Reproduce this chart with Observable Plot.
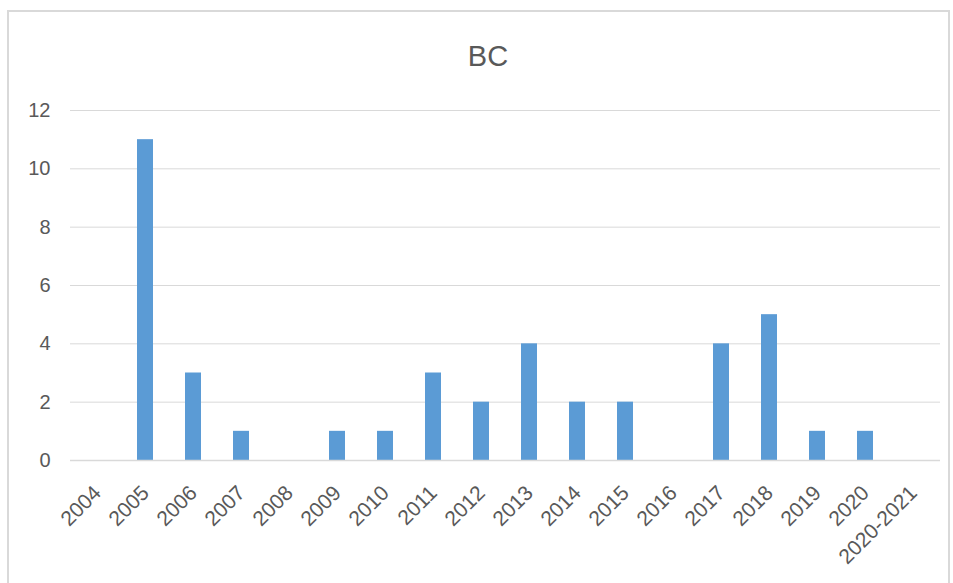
<!DOCTYPE html>
<html>
<head>
<meta charset="utf-8">
<script src="https://cdn.jsdelivr.net/npm/d3@7"></script>
<script src="https://cdn.jsdelivr.net/npm/@observablehq/plot@0.6"></script>
<style>
  html, body { margin: 0; padding: 0; background: #fff; }
  #wrap { position: relative; width: 953px; height: 583px; overflow: hidden; }
  #border { position: absolute; left: 7px; top: 10px; width: 939px; height: 580px; border: 2px solid #d9d9d9; box-sizing: content-box; }
  #title { position: absolute; left: 0; top: 38px; width: 976px; text-align: center; font-family: "Liberation Sans", Arial, sans-serif; font-size: 29px; color: #595959; line-height: 36px; }
  #chart { position: absolute; left: 0; top: 0; }
</style>
</head>
<body>
<div id="wrap">
  <div id="border"></div>
  <div id="title">BC</div>
  <div id="chart"></div>
</div>
<script>
const categories = ["2004","2005","2006","2007","2008","2009","2010","2011","2012","2013","2014","2015","2016","2017","2018","2019","2020","2020-2021"];
const values = [0, 11, 3, 1, 0, 1, 1, 3, 2, 4, 2, 2, 0, 4, 5, 1, 1, 0];
const yTicks = [0, 2, 4, 6, 8, 10, 12];

const data = categories.map((c, i) => ({category: c, value: values[i]}));

const chart = Plot.plot({
  width: 953,
  height: 583,
  marginTop: 110,
  marginBottom: 123,
  marginLeft: 70,
  marginRight: 13,
  style: {fontFamily: "'Liberation Sans', Arial, sans-serif", color: "#595959", background: "transparent"},
  x: {domain: categories, paddingInner: 0.67, paddingOuter: 0.335, label: null},
  y: {domain: [0, 12], ticks: yTicks, label: null},
  marks: [
    Plot.gridY(yTicks, {stroke: "#d9d9d9", strokeOpacity: 1, strokeWidth: 1}),
    Plot.barY(data, {x: "category", y: "value", fill: "#5B9BD5"}),
    Plot.ruleY([0], {stroke: "#d9d9d9", strokeWidth: 1.5}),
    Plot.axisY(yTicks, {tickSize: 0, tickPadding: 20, fontSize: 20, fill: "#595959", tickFormat: d => String(d)}),
    Plot.axisX({tickSize: 0, tickPadding: 29, tickRotate: -45, fontSize: 21, fill: "#595959"})
  ]
});
document.getElementById("chart").appendChild(chart);
</script>
</body>
</html>
